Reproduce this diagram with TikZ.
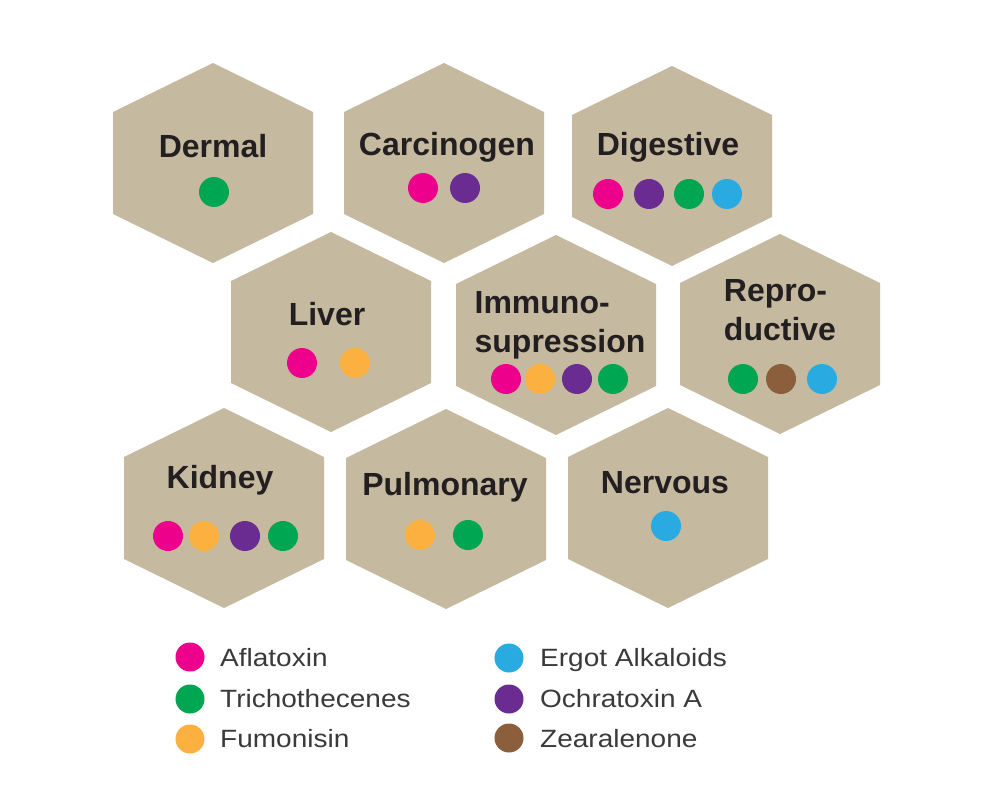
\documentclass[tikz,border=0pt]{standalone}
\usepackage{fontspec}
\setmainfont{Liberation Sans}
\newfontfamily\legfont[FakeStretch=1.12]{Liberation Sans}
\definecolor{hexfill}{HTML}{C5B9A0}
\definecolor{txtdark}{HTML}{231F20}
\definecolor{txtleg}{HTML}{3A3A3A}
\definecolor{cMag}{HTML}{EC008C}
\definecolor{cGreen}{HTML}{00A651}
\definecolor{cOrange}{HTML}{FBB040}
\definecolor{cCyan}{HTML}{29ABE2}
\definecolor{cPurple}{HTML}{6A2C91}
\definecolor{cBrown}{HTML}{8B5E3C}
\newcommand\hexcell[2]{%
  \fill[hexfill] (#1,#2-100) -- (#1+100,#2-51) -- (#1+100,#2+51) -- (#1,#2+100)
    -- (#1-100,#2+51) -- (#1-100,#2-51) -- cycle;}
\begin{document}
\begin{tikzpicture}[x=1pt,y=-1pt,
  lbl/.style={font=\fontsize{32}{39}\selectfont\bfseries, text=txtdark, align=left, inner sep=0pt, anchor=base},
  mdot/.style={circle, minimum size=30pt, inner sep=0pt, fill=#1},
  ldot/.style={circle, minimum size=29pt, inner sep=0pt, fill=#1},
  legtext/.style={font=\legfont\fontsize{25}{30}\selectfont, text=txtleg, anchor=base west, inner sep=0pt}]
\useasboundingbox (0,0) rectangle (1000,810);
\fill[white] (0,0) rectangle (1000,810);
% hexagons
\hexcell{213}{163}
\hexcell{444}{163}
\hexcell{672}{166}
\hexcell{331}{332}
\hexcell{556}{335}
\hexcell{780}{334}
\hexcell{224}{508}
\hexcell{446}{509}
\hexcell{668}{508}
% labels
\node[lbl] (dermal) at (213,158) {Dermal};
\node[lbl] (carcino) at (447,156) {Carcinogen};
\node[lbl] (digest) at (668,156) {Digestive};
\node[lbl] (liver) at (327,325) {Liver};
\node[lbl] (immuno) at (560,352) {Immuno-\\supression};
\node[lbl] (repro) at (780,340) {Repro-\\ductive};
\node[lbl] (kidney) at (220,488) {Kidney};
\node[lbl] (pulmo) at (445,495) {Pulmonary};
\node[lbl] (nervous) at (665,493) {Nervous};
% dots
\node[mdot=cGreen] (d1) at (214,192) {};
\node[mdot=cMag] (c1) at (423,188) {};
\node[mdot=cPurple] (c2) at (465,188) {};
\node[mdot=cMag] (g1) at (608,194) {};
\node[mdot=cPurple] (g2) at (649,194) {};
\node[mdot=cGreen] (g3) at (689,194) {};
\node[mdot=cCyan] (g4) at (727,194) {};
\node[mdot=cMag] (l1) at (302,363) {};
\node[mdot=cOrange] (l2) at (355,363) {};
\node[mdot=cMag] (i1) at (506,379) {};
\node[mdot=cOrange] (i2) at (540,379) {};
\node[mdot=cPurple] (i3) at (577,379) {};
\node[mdot=cGreen] (i4) at (613,379) {};
\node[mdot=cGreen] (r1) at (743,379) {};
\node[mdot=cBrown] (r2) at (781,379) {};
\node[mdot=cCyan] (r3) at (822,379) {};
\node[mdot=cMag] (k1) at (168,536) {};
\node[mdot=cOrange] (k2) at (204,536) {};
\node[mdot=cPurple] (k3) at (245,536) {};
\node[mdot=cGreen] (k4) at (283,536) {};
\node[mdot=cOrange] (p1) at (420,535) {};
\node[mdot=cGreen] (p2) at (468,535) {};
\node[mdot=cCyan] (n1) at (666,526) {};
% legend
\node[ldot=cMag] (lg1) at (190,657) {};
\node[ldot=cGreen] (lg2) at (190,699) {};
\node[ldot=cOrange] (lg3) at (190,739) {};
\node[ldot=cCyan] (lg4) at (509,658) {};
\node[ldot=cPurple] (lg5) at (509,699) {};
\node[ldot=cBrown] (lg6) at (509,738) {};
\node[legtext] (lt1) at (220,666) {Aflatoxin};
\node[legtext] (lt2) at (220,707) {Trichothecenes};
\node[legtext] (lt3) at (220,747) {Fumonisin};
\node[legtext] (lt4) at (540,666) {Ergot Alkaloids};
\node[legtext] (lt5) at (540,707) {Ochratoxin A};
\node[legtext] (lt6) at (540,747) {Zearalenone};
\end{tikzpicture}
\end{document}
